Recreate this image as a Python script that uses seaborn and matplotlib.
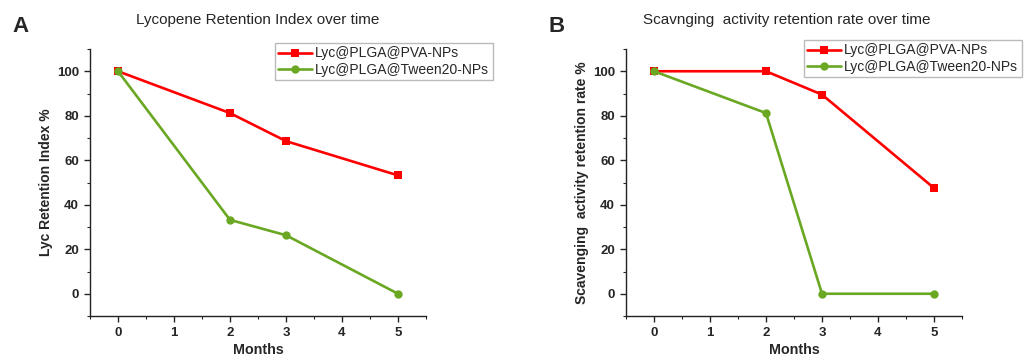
import numpy as np
import pandas as pd
import matplotlib
matplotlib.use("Agg")
import matplotlib.pyplot as plt
from matplotlib.ticker import MultipleLocator
import seaborn as sns

# ── Data ──────────────────────────────────────────────────────────────────────
MONTHS = [0, 2, 3, 5]
SERIES = ["Lyc@PLGA@PVA-NPs", "Lyc@PLGA@Tween20-NPs"]

lyc_pva   = [100, 81.2, 68.6, 53.2]
lyc_tween = [100, 33.2, 26.3, 0.0]
scav_pva   = [100, 100, 89.5, 47.5]
scav_tween = [100, 81.2, 0.0, 0.0]

COLORS  = {SERIES[0]: "#ff0000", SERIES[1]: "#6aa823"}
MARKERS = {SERIES[0]: "s", SERIES[1]: "o"}

sns.set_style("ticks")
plt.rcParams["font.family"] = ["Liberation Sans", "DejaVu Sans"]

fig = plt.figure(figsize=(10.27, 3.58), dpi=100)
W, H = 1027, 358


def px_axes(left, top, right, bottom):
    return fig.add_axes([left / W, 1 - bottom / H, (right - left) / W, (bottom - top) / H])


def draw_panel(ax, pva, tween, ylabel):
    df = pd.DataFrame({
        "Months": MONTHS * 2,
        "value": pva + tween,
        "series": [SERIES[0]] * len(MONTHS) + [SERIES[1]] * len(MONTHS),
    })
    for name in SERIES:
        sub = df[df["series"] == name]
        sns.lineplot(data=sub, x="Months", y="value", ax=ax, color=COLORS[name],
                     marker=MARKERS[name], markersize=6, markeredgewidth=0,
                     linewidth=1.9, label=name, legend=False)
    ax.set_xlim(-0.5, 5.5)
    ax.set_ylim(-10, 110)
    ax.xaxis.set_major_locator(MultipleLocator(1))
    ax.xaxis.set_minor_locator(MultipleLocator(0.5))
    ax.yaxis.set_minor_locator(MultipleLocator(10))
    ax.set_yticks([0, 20, 40, 60, 80, 100])
    ax.tick_params(which="major", direction="out", length=4, width=1, labelsize=9.5, pad=4)
    ax.tick_params(which="minor", direction="out", length=2.5, width=0.8)
    for lab in ax.get_xticklabels() + ax.get_yticklabels():
        lab.set_fontweight("bold")
    for s in ("top", "right"):
        ax.spines[s].set_visible(False)
    for s in ("left", "bottom"):
        ax.spines[s].set_linewidth(1.0)
        ax.spines[s].set_color("#222222")
    ax.set_xlabel("Months", fontsize=10.3, fontweight="bold", labelpad=3)
    ax.set_ylabel(ylabel, fontsize=10, fontweight="bold", labelpad=3)


LEG_KW = dict(loc="upper left", fontsize=10, frameon=True, fancybox=False,
              edgecolor="#aaaaaa", borderpad=0.25, labelspacing=0.15,
              handlelength=2.4, handletextpad=0.25, borderaxespad=0)

# ── Panel A ───────────────────────────────────────────────────────────────────
ax_a = px_axes(90, 49, 426, 316)
draw_panel(ax_a, lyc_pva, lyc_tween, "Lyc Retention Index %")
fig.text(258 / W, 1 - 20 / H, "Lycopene Retention Index over time",
         ha="center", va="center", fontsize=11)
fig.text(12 / W, 1 - 27 / H, "A", ha="left", va="center", fontsize=16, fontweight="bold")
h, l = ax_a.get_legend_handles_labels()
fig.legend(h, l, bbox_to_anchor=(275 / W, 1 - 43 / H), **LEG_KW)

# ── Panel B ───────────────────────────────────────────────────────────────────
ax_b = px_axes(626, 49, 962, 316)
draw_panel(ax_b, scav_pva, scav_tween, "Scavenging  activity retention rate %")
fig.text(787 / W, 1 - 20 / H, "Scavnging  activity retention rate over time",
         ha="center", va="center", fontsize=11)
fig.text(548 / W, 1 - 27 / H, "B", ha="left", va="center", fontsize=16, fontweight="bold")
h, l = ax_b.get_legend_handles_labels()
fig.legend(h, l, bbox_to_anchor=(804 / W, 1 - 40 / H), **LEG_KW)

fig.savefig("out.png", dpi=100, facecolor="white")
plt.close(fig)
